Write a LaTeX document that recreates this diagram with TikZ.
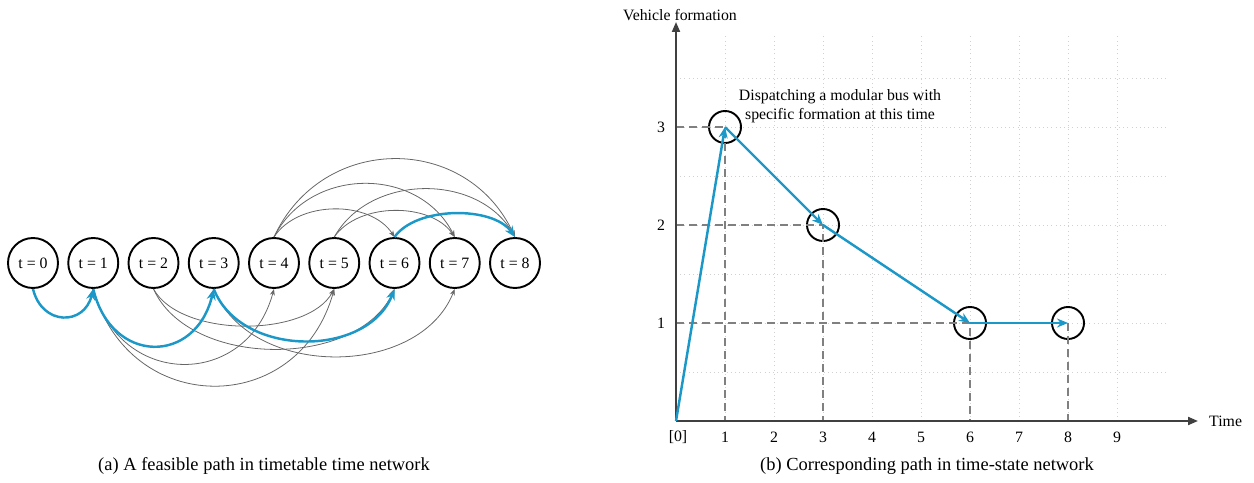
\documentclass[tikz,border=0pt]{standalone}
\usepackage{fontspec}
\setmainfont{Liberation Serif}
\usetikzlibrary{arrows.meta, positioning}
\definecolor{pathblue}{RGB}{27,152,200}

\begin{document}
\begin{tikzpicture}[
        x=0.2mm, y=-0.2mm,
        every node/.style={align=center, font=\fontsize{9}{11}\selectfont},
        timenode/.style={draw, circle, line width=1.1pt, minimum size=10mm, inner sep=0pt, font=\fontsize{9}{10}\selectfont},
        statenode/.style={draw, circle, line width=1.1pt, minimum size=6.4mm, inner sep=0pt},
        linkarc/.style={-{Stealth[length=1.3mm, width=1mm]}, draw=black!60, line width=0.45pt},
        arrow/.style={-{Stealth[length=2.2mm, width=1.8mm]}, draw=pathblue, line width=1.4pt},
        axisline/.style={-{Triangle[length=2mm, width=1.6mm]}, draw=black!75, line width=1.1pt},
        guide/.style={draw=black!50, dash pattern=on 1.6mm off 1mm, line width=0.6pt},
        gridline/.style={draw=black!18, dotted, line width=0.4pt},
        caption/.style={font=\fontsize{10.5}{12}\selectfont}
        ]
    \useasboundingbox (0,0) rectangle (1254,483);

    % (a) timetable time network

    % Nodes
    \foreach \i in {0,...,8}
        \node[timenode] (t-\i) at (33+60.25*\i, 263) {t = \i};

    % Gray arcs below and above
    \foreach \a/\b/\h in {1/4/100, 1/5/129, 2/5/49, 2/6/80, 3/7/90}
        \draw[linkarc] (t-\a.south) .. controls +({9*(\b-\a)},\h) and +({-9*(\b-\a)},\h) .. (t-\b.south);
    \foreach \a/\b/\h in {4/6/37, 4/7/71, 4/8/104, 5/7/35, 5/8/64}
        \draw[linkarc] (t-\a.north) .. controls +({12*(\b-\a)},-\h) and +({-12*(\b-\a)},-\h) .. (t-\b.north);

    % Feasible path
    \foreach \a/\b/\h in {0/1/37, 1/3/76, 3/6/69}
        \draw[arrow] (t-\a.south) .. controls +({9*(\b-\a)},\h) and +({-9*(\b-\a)},\h) .. (t-\b.south);
    \draw[arrow] (t-6.north) .. controls +(22,-31) and +(-22,-31) .. (t-8.north);

    \node[caption] (cap-a) at (264,466) {(a) A feasible path in timetable time network};

    % (b) time-state network

    \coordinate (O) at (676,421);
    \coordinate (ytop) at (676,22);
    \coordinate (xend) at (1198,421);

    % Grid
    \foreach \x in {1,...,9}
        \draw[gridline] (676+49*\x, 421) -- (676+49*\x, 36);
    \foreach \y in {1,...,7}
        \draw[gridline] (676, 421-49*\y) -- (1166, 421-49*\y);

    % States
    \node[statenode] (S-1) at (725,127) {};
    \node[statenode] (S-3) at (823,225) {};
    \node[statenode] (S-6) at (970,323) {};
    \node[statenode] (S-8) at (1068,323) {};

    % Guides
    \draw[guide] (O |- S-1) -- (S-1.center) -- (S-1 |- O);
    \draw[guide] (O |- S-3) -- (S-3.center) -- (S-3 |- O);
    \draw[guide] (O |- S-6) -- (S-6.center) -- (S-6 |- O);
    \draw[guide] (S-8.center) -- (S-8 |- O);

    % Axes
    \draw[axisline] (O) -- (ytop);
    \draw[axisline] (O) -- (xend);
    \node (ylabel) at (680,15) {Vehicle formation};
    \node[right=1mm of xend] (xlabel) {Time};
    \node (tick-0) at (678,437) {[0]};
    \foreach \x in {1,...,9}
        \node (tick-\x) at (676+49*\x, 437) {\x};
    \foreach \v in {1,2,3}
        \node (level-\v) at (661, 421-98*\v) {\v};

    % Path
    \draw[arrow] (O) -- (S-1.center);
    \draw[arrow] (S-1.center) -- (S-3.center);
    \draw[arrow] (S-3.center) -- (S-6.center);
    \draw[arrow] (S-6.center) -- (S-8.center);

    \node (note) at (840,106) {Dispatching a modular bus with\\specific formation at this time};

    \node[caption] (cap-b) at (927,466) {(b) Corresponding path in time-state network};

\end{tikzpicture}
\end{document}
